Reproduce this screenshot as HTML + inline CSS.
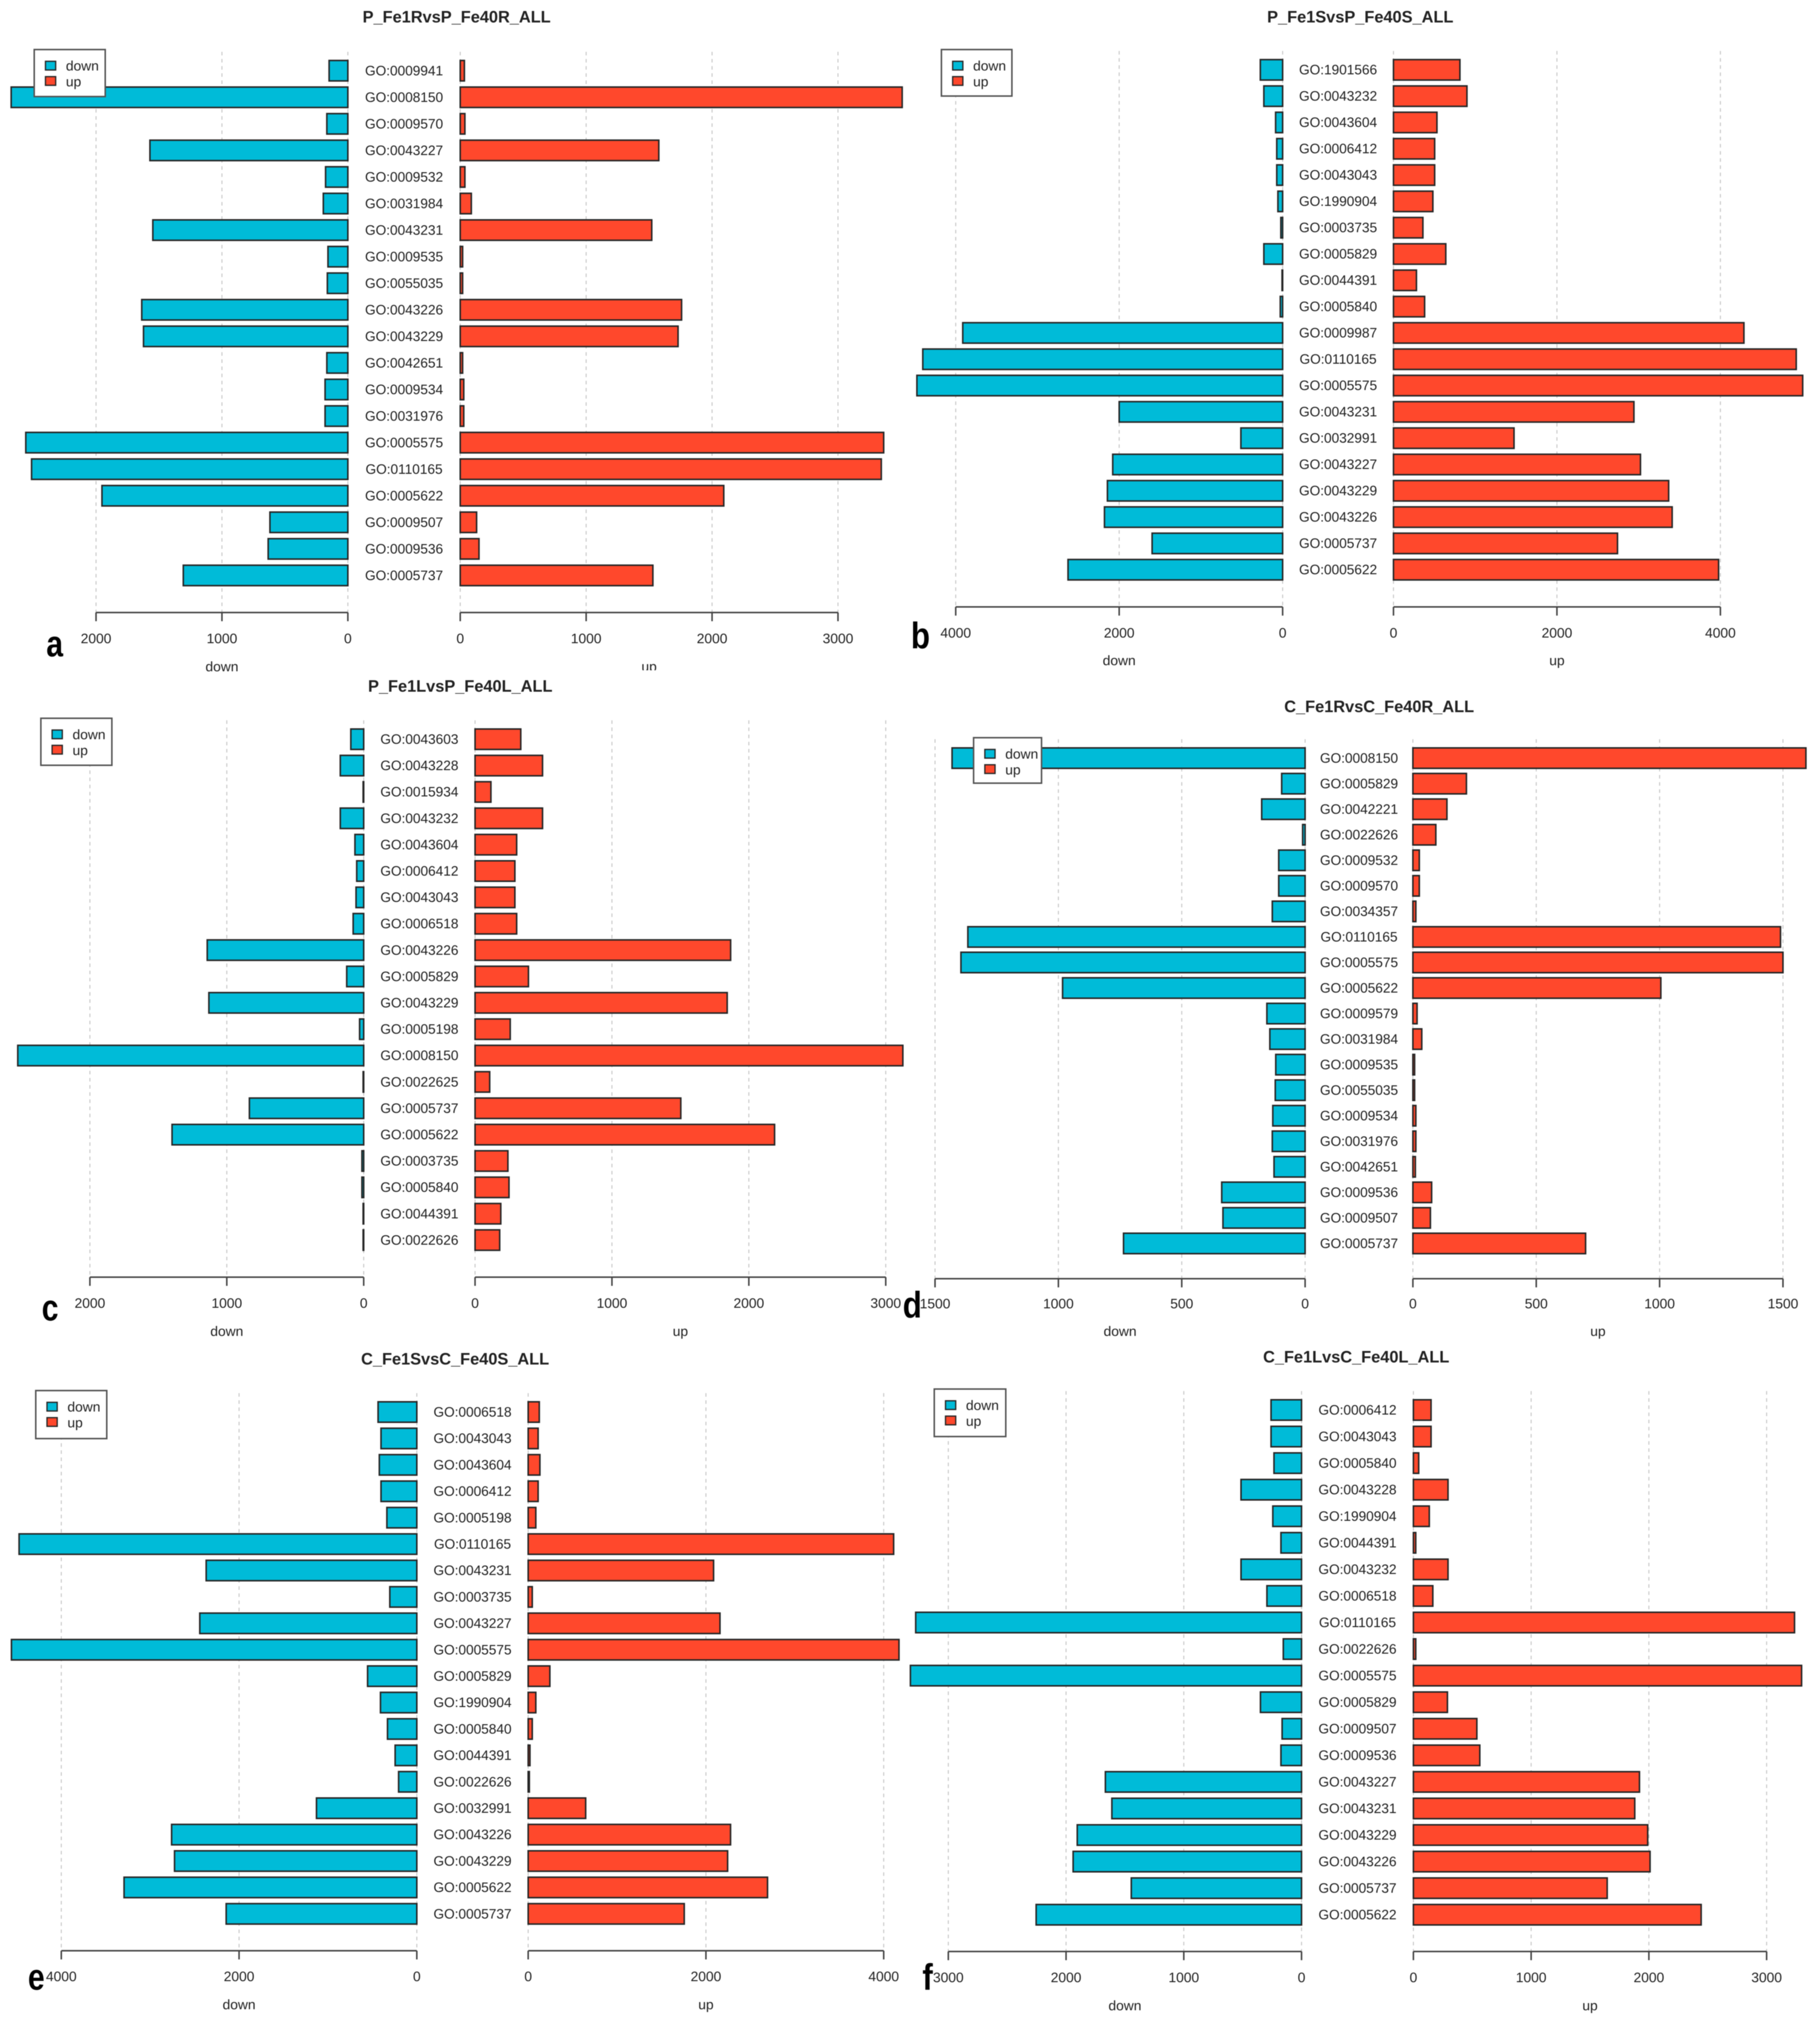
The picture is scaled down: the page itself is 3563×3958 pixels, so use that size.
<!DOCTYPE html>
<html lang="en">
<head>
<meta charset="utf-8">
<title>GO enrichment up and down bar charts</title>
<style>
html,body{margin:0;padding:0;background:#fff}
svg{display:block;filter:blur(.7px)}
text{font-family:"Liberation Sans",sans-serif;fill:#222}
</style>
</head>
<body>
<svg id="figure" xmlns="http://www.w3.org/2000/svg" width="3563" height="3958" viewBox="0 0 3563 3958">
<rect x="0" y="0" width="3563" height="3958" fill="#fff"/>
<g id="panels"></g>
<rect x="1200" y="1312" width="140" height="16" fill="#fff"/>
<g style="font-weight:bold;font-size:72px" fill="#000">
<text text-anchor="middle" transform="translate(107,1285) scale(.82,1)" style="fill:#000">a</text>
<text text-anchor="middle" transform="translate(1802,1269) scale(.85,1)" style="fill:#000">b</text>
<text text-anchor="middle" transform="translate(98,2585) scale(.82,1)" style="fill:#000">c</text>
<text text-anchor="middle" transform="translate(1786,2579) scale(.85,1)" style="fill:#000">d</text>
<text text-anchor="middle" transform="translate(71,3895) scale(.82,1)" style="fill:#000">e</text>
<text text-anchor="middle" transform="translate(1816,3895) scale(.85,1)" style="fill:#000">f</text>
</g>
</svg>
<script>
// ---------- chart data ----------
const categoriesA = ["GO:0009941","GO:0008150","GO:0009570","GO:0043227","GO:0009532","GO:0031984","GO:0043231","GO:0009535","GO:0055035","GO:0043226","GO:0043229","GO:0042651","GO:0009534","GO:0031976","GO:0005575","GO:0110165","GO:0005622","GO:0009507","GO:0009536","GO:0005737"];
const downValuesA = [149,2674,167,1572,177,195,1549,158,163,1637,1623,167,181,181,2558,2512,1953,619,633,1307];
const upValuesA = [33,3510,37,1577,37,88,1521,19,19,1758,1730,19,28,28,3363,3344,2093,130,149,1530];
const downTicksA = [0,1000,2000];
const upTicksA = [0,1000,2000,3000];

const categoriesB = ["GO:1901566","GO:0043232","GO:0043604","GO:0006412","GO:0043043","GO:1990904","GO:0003735","GO:0005829","GO:0044391","GO:0005840","GO:0009987","GO:0110165","GO:0005575","GO:0043231","GO:0032991","GO:0043227","GO:0043229","GO:0043226","GO:0005737","GO:0005622"];
const downValuesB = [273,230,86,72,72,58,22,230,7,29,3914,4403,4475,2000,511,2079,2144,2180,1597,2626];
const upValuesB = [813,899,532,504,504,482,360,640,281,381,4288,4928,5007,2942,1475,3022,3367,3410,2741,3978];
const downTicksB = [0,2000,4000];
const upTicksB = [0,2000,4000];

const categoriesC = ["GO:0043603","GO:0043228","GO:0015934","GO:0043232","GO:0043604","GO:0006412","GO:0043043","GO:0006518","GO:0043226","GO:0005829","GO:0043229","GO:0005198","GO:0008150","GO:0022625","GO:0005737","GO:0005622","GO:0003735","GO:0005840","GO:0044391","GO:0022626"];
const downValuesC = [94,171,4,171,64,51,56,77,1143,124,1131,30,2527,4,835,1400,13,13,4,4];
const upValuesC = [334,493,116,493,304,291,291,304,1867,390,1842,257,3125,107,1503,2188,240,248,188,180];
const downTicksC = [0,1000,2000];
const upTicksC = [0,1000,2000,3000];

const categoriesD = ["GO:0008150","GO:0005829","GO:0042221","GO:0022626","GO:0009532","GO:0009570","GO:0034357","GO:0110165","GO:0005575","GO:0005622","GO:0009579","GO:0031984","GO:0009535","GO:0055035","GO:0009534","GO:0031976","GO:0042651","GO:0009536","GO:0009507","GO:0005737"];
const downValuesD = [1431,95,176,10,107,107,133,1367,1395,983,155,143,119,121,131,133,126,338,333,736];
const upValuesD = [1593,217,138,93,26,26,12,1490,1500,1005,17,36,7,7,12,12,10,76,71,700];
const downTicksD = [0,500,1000,1500];
const upTicksD = [0,500,1000,1500];

const categoriesE = ["GO:0006518","GO:0043043","GO:0043604","GO:0006412","GO:0005198","GO:0110165","GO:0043231","GO:0003735","GO:0043227","GO:0005575","GO:0005829","GO:1990904","GO:0005840","GO:0044391","GO:0022626","GO:0032991","GO:0043226","GO:0043229","GO:0005622","GO:0005737"];
const downValuesE = [436,403,422,403,337,4475,2370,304,2442,4561,554,409,330,244,205,1129,2759,2726,3294,2145];
const upValuesE = [125,112,132,112,86,4112,2086,46,2158,4172,244,86,46,20,13,647,2277,2244,2693,1756];
const downTicksE = [0,2000,4000];
const upTicksE = [0,2000,4000];

const categoriesF = ["GO:0006412","GO:0043043","GO:0005840","GO:0043228","GO:1990904","GO:0044391","GO:0043232","GO:0006518","GO:0110165","GO:0022626","GO:0005575","GO:0005829","GO:0009507","GO:0009536","GO:0043227","GO:0043231","GO:0043229","GO:0043226","GO:0005737","GO:0005622"];
const downValuesF = [259,259,234,514,244,175,514,294,3277,155,3322,349,165,175,1666,1611,1905,1940,1446,2254];
const upValuesF = [150,150,45,294,135,20,294,165,3237,20,3297,289,539,564,1920,1880,1990,2010,1646,2444];
const downTicksF = [0,1000,2000,3000];
const upTicksF = [0,1000,2000,3000];

// ---------- panel layout (pixels, separate from the data) ----------
const panels = [
 {id:"a",title:"P_Fe1RvsP_Fe40R_ALL",cats:categoriesA,down:downValuesA,up:upValuesA,dt:downTicksA,ut:upTicksA,
  dz:681,uz:901,ppu:.2465,y0:138.4,dy:52,axisY:1199,labelY:1249,nameY:1305,titleX:894,titleY:33,leg:[67,97,139,92]},
 {id:"b",title:"P_Fe1SvsP_Fe40S_ALL",cats:categoriesB,down:downValuesB,up:upValuesB,dt:downTicksB,ut:upTicksB,
  dz:2511,uz:2728,ppu:.16,y0:136.7,dy:51.5,axisY:1188,labelY:1238,nameY:1293,titleX:2663,titleY:33,leg:[1843,97,138,91]},
 {id:"c",title:"P_Fe1LvsP_Fe40L_ALL",cats:categoriesC,down:downValuesC,up:upValuesC,dt:downTicksC,ut:upTicksC,
  dz:712,uz:930,ppu:.268,y0:1447,dy:51.6,axisY:2500,labelY:2550,nameY:2606,titleX:901,titleY:1343,leg:[80,1406,139,92]},
 {id:"d",title:"C_Fe1RvsC_Fe40R_ALL",cats:categoriesD,down:downValuesD,up:upValuesD,dt:downTicksD,ut:upTicksD,
  dz:2555,uz:2766,ppu:.483,y0:1484,dy:50,axisY:2503,labelY:2551,nameY:2606,titleX:2700,titleY:1383,leg:[1906,1444,133,89]},
 {id:"e",title:"C_Fe1SvsC_Fe40S_ALL",cats:categoriesE,down:downValuesE,up:upValuesE,dt:downTicksE,ut:upTicksE,
  dz:816,uz:1034,ppu:.174,y0:2764,dy:51.7,axisY:3818.5,labelY:3868,nameY:3924,titleX:891,titleY:2660,leg:[70,2722,139,94]},
 {id:"f",title:"C_Fe1LvsC_Fe40L_ALL",cats:categoriesF,down:downValuesF,up:upValuesF,dt:downTicksF,ut:upTicksF,
  dz:2548,uz:2767,ppu:.2305,y0:2760,dy:52,axisY:3820,labelY:3870,nameY:3926,titleX:2655,titleY:2656,leg:[1829,2719,140,93]}
];

const NS = "http://www.w3.org/2000/svg";
const COL_DOWN = "#00bbd8", COL_UP = "#ff482c", COL_EDGE = "#262626";
const BAR_H = 40;

function mk(tag, parent, attrs, txt) {
  const el = document.createElementNS(NS, tag);
  for (const k in attrs) el.setAttribute(k, attrs[k]);
  if (txt !== undefined) el.textContent = txt;
  parent.appendChild(el);
  return el;
}

function drawPanel(p) {
  const root = document.getElementById("panels");
  const g = mk("g", root, {});
  
  

  const xDown = v => p.dz - v * p.ppu;
  const xUp = v => p.uz + v * p.ppu;
  const yAt = i => p.y0 + i * p.dy;
  const topY = p.y0 - 37;

  const title = mk("text", g, {x:p.titleX, y:p.titleY + 11, "text-anchor":"middle", "font-size":32, "font-weight":"bold"}, p.title);
  
  

  // grid lines
  p.dt.forEach(t => {
    const gl = mk("line", g, {x1:xDown(t), x2:xDown(t), y1:topY, y2:p.axisY, stroke:"#c8c8c8", "stroke-width":2, "stroke-dasharray":"7 7"});
    
    
  });
  p.ut.forEach(t => {
    const gl = mk("line", g, {x1:xUp(t), x2:xUp(t), y1:topY, y2:p.axisY, stroke:"#c8c8c8", "stroke-width":2, "stroke-dasharray":"7 7"});
    
    
  });

  // bars and category labels
  const labelX = (p.dz + p.uz) / 2;
  p.cats.forEach((c, i) => {
    const yc = yAt(i);
    const bd = mk("rect", g, {x:xDown(p.down[i]), y:yc - BAR_H / 2, width:p.down[i] * p.ppu, height:BAR_H, fill:COL_DOWN, stroke:COL_EDGE, "stroke-width":3});
    
    
    const bu = mk("rect", g, {x:xUp(0), y:yc - BAR_H / 2, width:p.up[i] * p.ppu, height:BAR_H, fill:COL_UP, stroke:COL_EDGE, "stroke-width":3});
    
    
    const lb = mk("text", g, {x:labelX, y:yc + 9, "text-anchor":"middle", "font-size":26.7}, c);
    
    
  });

  // axes
  const drawAxis = (ticks, xf, side) => {
    const xs = ticks.map(xf);
    const ax = mk("line", g, {x1:Math.min(...xs), x2:Math.max(...xs), y1:p.axisY, y2:p.axisY, stroke:"#444", "stroke-width":3});
    
    
    ticks.forEach(t => {
      const tk = mk("line", g, {x1:xf(t), x2:xf(t), y1:p.axisY, y2:p.axisY + 17, stroke:"#444", "stroke-width":3});
      
      
      const tl = mk("text", g, {x:xf(t), y:p.labelY + 10, "text-anchor":"middle", "font-size":27}, String(t));
      
      
    });
    const at = mk("text", g, {x:(Math.min(...xs) + Math.max(...xs)) / 2, y:p.nameY + 9, "text-anchor":"middle", "font-size":27}, side);
    
    
  };
  drawAxis(p.dt, xDown, "down");
  drawAxis(p.ut, xUp, "up");

  // legend
  const [lx, ly, lw, lh] = p.leg;
  const lg = mk("g", g, {});
  
  
  const box = mk("rect", lg, {x:lx, y:ly, width:lw, height:lh, fill:"#fff", stroke:"#555", "stroke-width":3});
  
  
  const s1 = mk("rect", lg, {x:lx + 22, y:ly + 23, width:20, height:17, fill:COL_DOWN, stroke:COL_EDGE, "stroke-width":2.5});
  
  
  const t1 = mk("text", lg, {x:lx + 62, y:ly + 41, "font-size":27}, "down");
  
  
  const s2 = mk("rect", lg, {x:lx + 22, y:ly + 53, width:20, height:17, fill:COL_UP, stroke:COL_EDGE, "stroke-width":2.5});
  
  
  const t2 = mk("text", lg, {x:lx + 62, y:ly + 72, "font-size":27}, "up");
  
  
}

panels.forEach(drawPanel);
</script>
</body>
</html>
